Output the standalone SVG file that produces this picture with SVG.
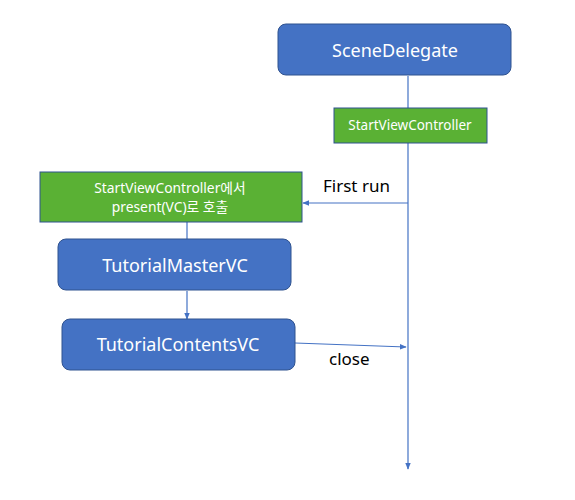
<svg xmlns="http://www.w3.org/2000/svg" width="575" height="500" viewBox="0 0 575 500">
<style>
.blue{fill:#4472C4;stroke:#2F528F;stroke-width:1}
.green{fill:#5AB134;stroke:#2F528F;stroke-width:1}
.wt{fill:#fff;font-family:"Noto Sans","Noto Sans CJK KR",sans-serif;text-anchor:middle;dominant-baseline:central}
.lbl{fill:#000;font-family:"Noto Sans","Noto Sans CJK KR",sans-serif;font-size:17px}
.ln{stroke:#4472C4;stroke-width:1.2;fill:none}
</style>
<defs>
<marker id="ah" viewBox="0 0 10 10" refX="9" refY="5" markerWidth="7" markerHeight="7" orient="auto" markerUnits="userSpaceOnUse">
<path d="M0,1 L10,5 L0,9 Z" fill="#4472C4"/>
</marker>
</defs>
<rect width="575" height="500" fill="#fff"/>
<g id="connectors">
<line class="ln" x1="408" y1="76" x2="408" y2="108"/>
<line class="ln" x1="408" y1="143" x2="408" y2="469" marker-end="url(#ah)"/>
<line class="ln" x1="408" y1="203" x2="303" y2="203" marker-end="url(#ah)"/>
<line class="ln" x1="187" y1="222" x2="187" y2="239"/>
<line class="ln" x1="187" y1="291" x2="187" y2="319" marker-end="url(#ah)"/>
<line class="ln" x1="295" y1="343" x2="406" y2="347" marker-end="url(#ah)"/>
<text class="lbl" x="323" y="192">First run</text>
<text class="lbl" x="329" y="365">close</text>
</g>
<g id="sceneDelegate">
<rect class="blue" x="278" y="24" width="233" height="51" rx="8"/>
<text class="wt" x="395" y="50" font-size="18">SceneDelegate</text>
</g>
<g id="startViewController">
<rect class="green" x="334" y="108" width="153" height="35"/>
<text class="wt" x="410" y="125" font-size="13.5">StartViewController</text>
</g>
<g id="presentBox">
<rect class="green" x="40" y="172" width="262" height="50"/>
<text class="wt" x="170" y="187" font-size="13.8">StartViewController에서</text>
<text class="wt" x="170" y="206" font-size="13.8">present(VC)로 호출</text>
</g>
<g id="tutorialMasterVC">
<rect class="blue" x="58" y="239" width="233" height="51" rx="8"/>
<text class="wt" x="175" y="265" font-size="18">TutorialMasterVC</text>
</g>
<g id="tutorialContentsVC">
<rect class="blue" x="62" y="319" width="233" height="51" rx="8"/>
<text class="wt" x="178" y="344" font-size="18">TutorialContentsVC</text>
</g>
</svg>
